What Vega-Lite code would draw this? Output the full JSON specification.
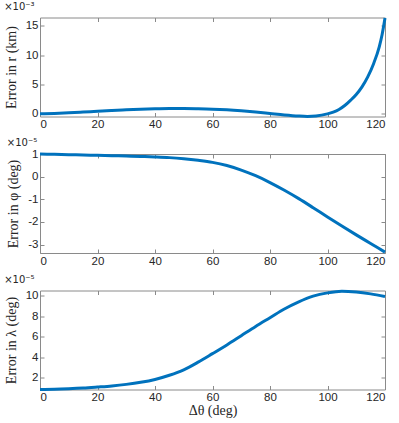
{
  "$schema": "https://vega.github.io/schema/vega-lite/v6.json",
  "padding": {"left": 3, "top": 0.5, "right": 0, "bottom": 0},
  "datasets": {
    "r": [
      {"theta": 0, "err": 0}, {"theta": 5, "err": 0.07}, {"theta": 10, "err": 0.17}, {"theta": 15, "err": 0.3},
      {"theta": 20, "err": 0.43}, {"theta": 25, "err": 0.56}, {"theta": 30, "err": 0.68}, {"theta": 35, "err": 0.79},
      {"theta": 40, "err": 0.87}, {"theta": 45, "err": 0.91}, {"theta": 50, "err": 0.91}, {"theta": 55, "err": 0.87},
      {"theta": 60, "err": 0.8}, {"theta": 65, "err": 0.68}, {"theta": 70, "err": 0.51}, {"theta": 75, "err": 0.3},
      {"theta": 80, "err": 0.05}, {"theta": 85, "err": -0.2}, {"theta": 90, "err": -0.38}, {"theta": 93, "err": -0.43},
      {"theta": 96, "err": -0.36}, {"theta": 100, "err": 0.0}, {"theta": 102, "err": 0.3}, {"theta": 104, "err": 0.75},
      {"theta": 106, "err": 1.42}, {"theta": 108, "err": 2.3}, {"theta": 110, "err": 3.3}, {"theta": 112, "err": 4.6},
      {"theta": 114, "err": 6.3}, {"theta": 116, "err": 8.5}, {"theta": 118, "err": 11.4}, {"theta": 119, "err": 13.5},
      {"theta": 120, "err": 16.3}
    ],
    "phi": [
      {"theta": 0, "err": 1.0}, {"theta": 5, "err": 0.985}, {"theta": 10, "err": 0.97}, {"theta": 15, "err": 0.955},
      {"theta": 20, "err": 0.94}, {"theta": 25, "err": 0.925}, {"theta": 30, "err": 0.91}, {"theta": 35, "err": 0.892},
      {"theta": 40, "err": 0.87}, {"theta": 45, "err": 0.84}, {"theta": 50, "err": 0.79}, {"theta": 55, "err": 0.72},
      {"theta": 60, "err": 0.63}, {"theta": 65, "err": 0.49}, {"theta": 70, "err": 0.29}, {"theta": 75, "err": 0.04},
      {"theta": 80, "err": -0.26}, {"theta": 85, "err": -0.6}, {"theta": 90, "err": -0.97}, {"theta": 95, "err": -1.37},
      {"theta": 100, "err": -1.78}, {"theta": 105, "err": -2.18}, {"theta": 110, "err": -2.57}, {"theta": 115, "err": -2.95},
      {"theta": 120, "err": -3.33}
    ],
    "lam": [
      {"theta": 0, "err": 0.86}, {"theta": 5, "err": 0.88}, {"theta": 10, "err": 0.93}, {"theta": 15, "err": 1.0},
      {"theta": 20, "err": 1.1}, {"theta": 25, "err": 1.21}, {"theta": 30, "err": 1.36}, {"theta": 35, "err": 1.56},
      {"theta": 40, "err": 1.84}, {"theta": 45, "err": 2.25}, {"theta": 50, "err": 2.78}, {"theta": 55, "err": 3.52},
      {"theta": 60, "err": 4.35}, {"theta": 65, "err": 5.2}, {"theta": 70, "err": 6.1}, {"theta": 75, "err": 7.0},
      {"theta": 80, "err": 7.85}, {"theta": 85, "err": 8.7}, {"theta": 90, "err": 9.4}, {"theta": 95, "err": 9.95},
      {"theta": 100, "err": 10.27}, {"theta": 105, "err": 10.43}, {"theta": 110, "err": 10.35}, {"theta": 115, "err": 10.17},
      {"theta": 120, "err": 9.92}
    ]
  },
  "config": {
    "view": {"stroke": "#8a8a8a", "strokeWidth": 1},
    "axis": {
      "grid": false, "domain": false, "tickColor": "#8a8a8a", "tickSize": -4,
      "labelFont": "Liberation Sans", "labelFontSize": 11.5, "labelColor": "#262626", "labelPadding": 6,
      "titleFont": "Liberation Serif", "titleFontSize": 14, "titleFontWeight": "normal", "titleColor": "#262626",
      "titlePadding": 7,
      "labelExpr": "replace(datum.label, '\u2212', '-')"
    },
    "title": {"font": "DejaVu Sans", "fontSize": 10, "fontWeight": "normal", "anchor": "start", "color": "#262626", "offset": 0.5},
    "concat": {"spacing": 6.5}
  },
  "vconcat": [
    {
      "width": 345, "height": 99,
      "title": {"text": "×10⁻³"},
      "data": {"name": "r"},
      "layer": [
        {
          "mark": {"type": "line", "color": "#0072BD", "strokeWidth": 3, "interpolate": "monotone"},
          "encoding": {
            "x": {"field": "theta", "type": "quantitative", "scale": {"domain": [0, 120], "nice": false}, "axis": {"values": [0, 20, 40, 60, 80, 100, 120], "title": null}},
            "y": {"field": "err", "type": "quantitative", "scale": {"domain": [-0.45, 16.4], "nice": false, "zero": false}, "axis": {"values": [0, 5, 10, 15], "title": "Error in r (km)"}}
          }
        },
        {
          "mark": {"type": "line", "opacity": 0},
          "encoding": {
            "x": {"field": "theta", "type": "quantitative", "axis": {"orient": "top", "values": [0, 20, 40, 60, 80, 100, 120], "labels": false, "title": null}},
            "y": {"field": "err", "type": "quantitative", "axis": {"orient": "right", "values": [0, 5, 10, 15], "labels": false, "title": null}}
          }
        }
      ],
      "resolve": {"axis": {"x": "independent", "y": "independent"}}
    },
    {
      "width": 345, "height": 99,
      "title": {"text": "×10⁻⁵"},
      "data": {"name": "phi"},
      "layer": [
        {
          "mark": {"type": "line", "color": "#0072BD", "strokeWidth": 3, "interpolate": "monotone"},
          "encoding": {
            "x": {"field": "theta", "type": "quantitative", "scale": {"domain": [0, 120], "nice": false}, "axis": {"values": [0, 20, 40, 60, 80, 100, 120], "title": null}},
            "y": {"field": "err", "type": "quantitative", "scale": {"domain": [-3.37, 1.0], "nice": false, "zero": false}, "axis": {"values": [-3, -2, -1, 0, 1], "title": "Error in φ (deg)"}}
          }
        },
        {
          "mark": {"type": "line", "opacity": 0},
          "encoding": {
            "x": {"field": "theta", "type": "quantitative", "axis": {"orient": "top", "values": [0, 20, 40, 60, 80, 100, 120], "labels": false, "title": null}},
            "y": {"field": "err", "type": "quantitative", "axis": {"orient": "right", "values": [-3, -2, -1, 0, 1], "labels": false, "title": null}}
          }
        }
      ],
      "resolve": {"axis": {"x": "independent", "y": "independent"}}
    },
    {
      "width": 345, "height": 99,
      "title": {"text": "×10⁻⁵"},
      "data": {"name": "lam"},
      "layer": [
        {
          "mark": {"type": "line", "color": "#0072BD", "strokeWidth": 3, "interpolate": "monotone"},
          "encoding": {
            "x": {"field": "theta", "type": "quantitative", "scale": {"domain": [0, 120], "nice": false}, "axis": {"values": [0, 20, 40, 60, 80, 100, 120], "title": "Δθ (deg)", "titlePadding": 0}},
            "y": {"field": "err", "type": "quantitative", "scale": {"domain": [0.86, 10.5], "nice": false, "zero": false}, "axis": {"values": [2, 4, 6, 8, 10], "title": "Error in λ (deg)"}}
          }
        },
        {
          "mark": {"type": "line", "opacity": 0},
          "encoding": {
            "x": {"field": "theta", "type": "quantitative", "axis": {"orient": "top", "values": [0, 20, 40, 60, 80, 100, 120], "labels": false, "title": null}},
            "y": {"field": "err", "type": "quantitative", "axis": {"orient": "right", "values": [2, 4, 6, 8, 10], "labels": false, "title": null}}
          }
        }
      ],
      "resolve": {"axis": {"x": "independent", "y": "independent"}}
    }
  ]
}
